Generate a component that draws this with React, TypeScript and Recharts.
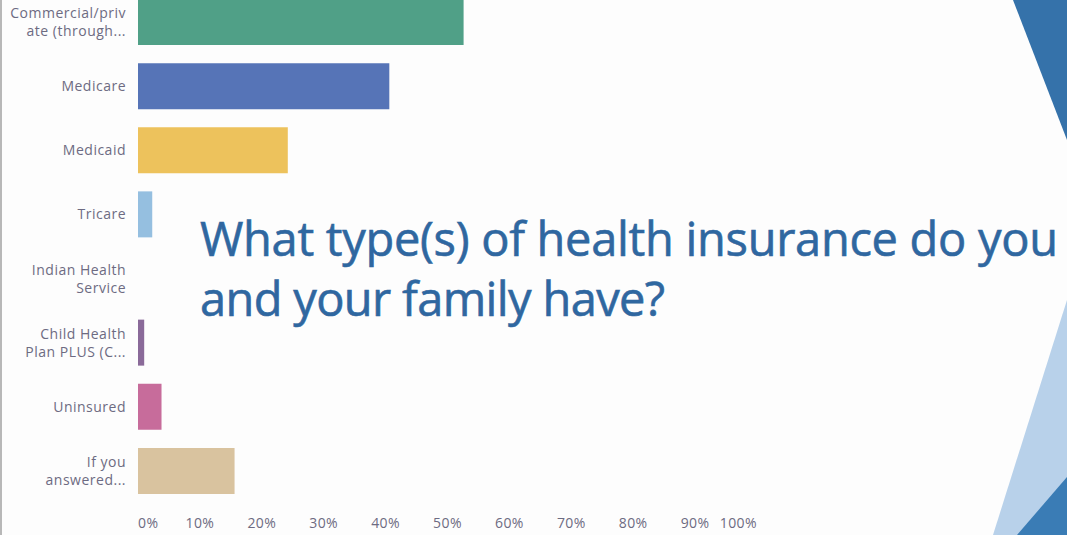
import React from 'react';
import { BarChart, Bar, XAxis, YAxis, Cell } from 'recharts';

const categories = [
  'Commercial/private (through...',
  'Medicare',
  'Medicaid',
  'Tricare',
  'Indian Health Service',
  'Child Health Plan PLUS (C...',
  'Uninsured',
  'If you answered...',
];
const labelLines = [
  ['Commercial/priv', 'ate (through...'],
  ['Medicare'],
  ['Medicaid'],
  ['Tricare'],
  ['Indian Health', 'Service'],
  ['Child Health', 'Plan PLUS (C...'],
  ['Uninsured'],
  ['If you', 'answered...'],
];
const percentages = [52.6, 40.6, 24.2, 2.3, 0, 1.0, 3.8, 15.6];
const barColorsAll = ['#50a087', '#5674b7', '#edc25c', '#95bfe0', '#7fa7a0', '#8a6a99', '#c76c9b', '#d9c39f'];
const xTicks = [0, 10, 20, 30, 40, 50, 60, 70, 80, 90, 100];
const xTickLabels = ['0%', '10%', '20%', '30%', '40%', '50%', '60%', '70%', '80%', '90%', '100%'];
const titleLine1 = 'What type(s) of health insurance do you';
const titleLine2 = 'and your family have?';

const data = categories.map((name, i) => ({ name, value: percentages[i] }));

const textColor = '#6d6b82';
const labelFont = "'Open Sans', sans-serif";

const XTick = (props: any) => {
  const { x, y, index } = props;
  const last = xTicks.length - 1;
  const anchor = index === 0 ? 'start' : index === last ? 'end' : 'middle';
  return (
    <text x={x} y={y} dy={17} textAnchor={anchor} fill={textColor} fontSize={14} fontFamily={labelFont} letterSpacing={0.4}>
      {xTickLabels[index]}
    </text>
  );
};

const YTick = (props: any) => {
  const { x, y, index } = props;
  const lines = labelLines[index] || [];
  const lh = 18;
  const start = -((lines.length - 1) * lh) / 2;
  return (
    <text x={x - 4} y={y} textAnchor="end" fill={textColor} fontSize={14} fontFamily={labelFont} letterSpacing={0.5}>
      {lines.map((l, i) => (
        <tspan key={i} x={x - 4} y={y + start + i * lh} dy={5}>
          {l}
        </tspan>
      ))}
    </text>
  );
};

export default function App() {
  return (
    <div
      style={{
        position: 'absolute',
        left: 0,
        top: 0,
        width: 1067,
        height: 535,
        overflow: 'hidden',
        background: '#fdfdfd',
      }}
    >
      <div style={{ position: 'absolute', left: 0, top: -10 }}>
        <BarChart
          layout="vertical"
          width={1067}
          height={553}
          data={data}
          margin={{ top: 0, right: 310, bottom: 0, left: 0 }}
          barSize={46}
        >
          <XAxis
            type="number"
            domain={[0, 100]}
            ticks={xTicks}
            interval={0}
            axisLine={false}
            tickLine={false}
            height={40}
            tick={(p: any) => <XTick {...p} />}
          />
          <YAxis
            type="category"
            dataKey="name"
            width={138}
            interval={0}
            axisLine={false}
            tickLine={false}
            tick={(p: any) => <YTick {...p} />}
          />
          <Bar dataKey="value" isAnimationActive={false}>
            {data.map((d, i) => (
              <Cell key={d.name} fill={barColorsAll[i]} />
            ))}
          </Bar>
        </BarChart>
      </div>
      <svg
        width={1067}
        height={535}
        style={{ position: 'absolute', left: 0, top: 0, pointerEvents: 'none' }}
      >
        <rect x={0} y={0} width={2} height={535} fill="#8a8a8a" opacity={0.6} />
        <polygon points="1013,0 1067,0 1067,140" fill="#3572aa" />
        <polygon points="1067,300 993,535 1067,535" fill="#b8d1ea" />
        <polygon points="1017,535 1067,477 1067,535" fill="#3a7cb5" />
        <text
          x={200}
          y={256}
          fontSize={47}
          fill="#2f67a0"
          stroke="#2f67a0"
          strokeWidth={0.6}
          fontFamily="'Open Sans', sans-serif"
          textLength={858}
          lengthAdjust="spacing"
        >
          {titleLine1}
        </text>
        <text
          x={200}
          y={316}
          fontSize={47}
          fill="#2f67a0"
          stroke="#2f67a0"
          strokeWidth={0.6}
          fontFamily="'Open Sans', sans-serif"
          textLength={465}
          lengthAdjust="spacing"
        >
          {titleLine2}
        </text>
      </svg>
    </div>
  );
}
